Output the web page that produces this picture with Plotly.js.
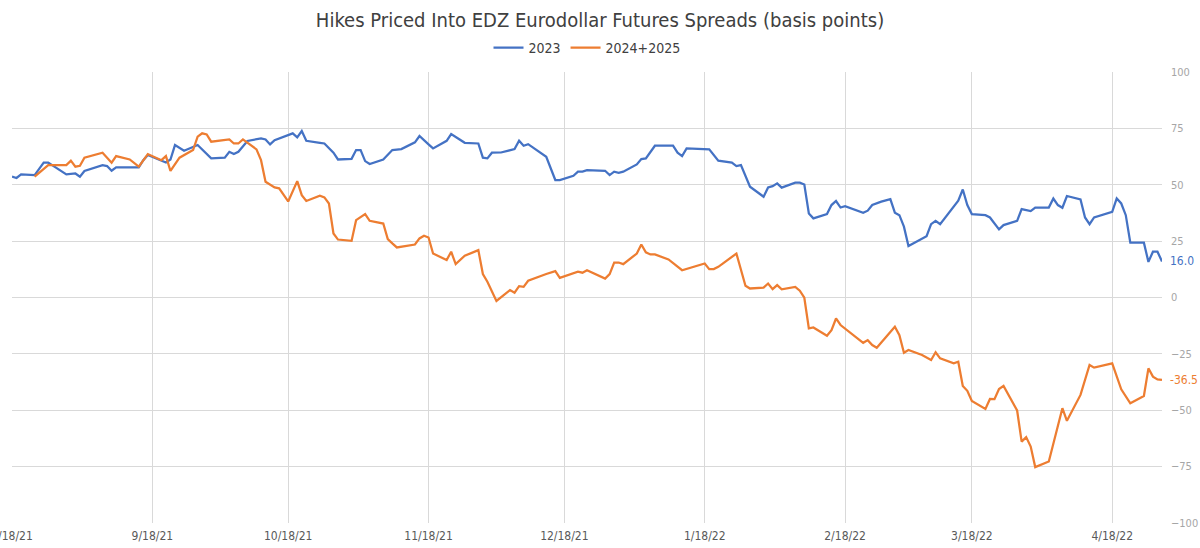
<!DOCTYPE html>
<html>
<head>
<meta charset="utf-8">
<script src="https://cdn.plot.ly/plotly-3.0.1.min.js"></script>
<style>html,body{margin:0;padding:0;background:#fff;}#chart{width:1200px;height:548px;}</style>
</head>
<body>
<div id="chart"></div>
<script>
const chartTitle = "Hikes Priced Into EDZ Eurodollar Futures Spreads (basis points)";
const seriesNames = ["2023", "2024+2025"];

const dates2023 = [
"2021-08-18","2021-08-19","2021-08-20","2021-08-23","2021-08-25","2021-08-26","2021-08-30","2021-09-01","2021-09-02","2021-09-03",
"2021-09-07","2021-09-08","2021-09-09","2021-09-10","2021-09-15","2021-09-16","2021-09-17","2021-09-21","2021-09-22","2021-09-23",
"2021-09-25","2021-09-28","2021-10-01","2021-10-04","2021-10-05","2021-10-06","2021-10-07","2021-10-09","2021-10-12","2021-10-13",
"2021-10-14","2021-10-15","2021-10-19","2021-10-20","2021-10-21","2021-10-22","2021-10-25","2021-10-26","2021-10-28","2021-10-29",
"2021-11-01","2021-11-02","2021-11-03","2021-11-04","2021-11-05","2021-11-08","2021-11-10","2021-11-12","2021-11-15","2021-11-16",
"2021-11-18","2021-11-19","2021-11-22","2021-11-23","2021-11-26","2021-11-29","2021-11-30","2021-12-01","2021-12-02","2021-12-04",
"2021-12-07","2021-12-08","2021-12-09","2021-12-10","2021-12-14","2021-12-16","2021-12-17","2021-12-20","2021-12-21","2021-12-22",
"2021-12-23","2021-12-27","2021-12-28","2021-12-29","2021-12-30","2021-12-31","2022-01-03","2022-01-04","2022-01-05","2022-01-07",
"2022-01-11","2022-01-12","2022-01-13","2022-01-14","2022-01-19","2022-01-21","2022-01-24","2022-01-25","2022-01-26","2022-01-28",
"2022-01-31","2022-02-01","2022-02-02","2022-02-03","2022-02-04","2022-02-07","2022-02-08","2022-02-09","2022-02-10","2022-02-11",
"2022-02-14","2022-02-15","2022-02-16","2022-02-17","2022-02-18","2022-02-22","2022-02-23","2022-02-24","2022-02-26","2022-02-28",
"2022-03-01","2022-03-02","2022-03-03","2022-03-04","2022-03-08","2022-03-09","2022-03-10","2022-03-11","2022-03-15","2022-03-16",
"2022-03-17","2022-03-18","2022-03-21","2022-03-22","2022-03-24","2022-03-25","2022-03-28","2022-03-29","2022-03-31","2022-04-01",
"2022-04-04","2022-04-05","2022-04-06","2022-04-07","2022-04-08","2022-04-11","2022-04-12","2022-04-13","2022-04-14","2022-04-18",
"2022-04-19","2022-04-20","2022-04-21","2022-04-22","2022-04-25","2022-04-26","2022-04-27","2022-04-28","2022-04-29"
];
const values2023 = [
53.6,53.0,54.6,54.3,59.8,59.8,54.6,55.0,53.6,56.1,
58.7,58.3,56.2,57.7,57.7,60.9,63.2,59.9,61.2,67.6,
65.1,67.6,61.7,62.0,64.6,63.6,64.6,69.4,70.6,70.1,
67.9,69.8,72.8,71.0,73.8,69.5,68.6,68.3,64.2,61.2,
61.5,65.4,65.4,60.5,59.2,61.2,65.4,65.8,68.8,71.6,
67.9,66.1,69.5,72.5,68.6,68.3,62.0,61.7,64.2,64.3,
65.8,69.5,67.3,68.0,62.4,52.1,52.1,54.0,55.8,55.8,
56.5,56.2,54.3,55.8,55.3,55.8,59.0,61.4,61.7,67.3,
67.3,64.2,62.7,66.1,65.7,60.7,59.8,58.3,58.7,49.1,
44.7,48.8,49.4,50.6,48.7,50.9,50.9,50.1,37.3,35.1,
37.0,41.0,42.8,39.9,40.5,37.6,38.5,41.0,42.5,43.6,
37.6,36.5,31.4,22.8,27.2,32.5,34.0,32.5,42.9,47.9,
41.0,37.0,36.5,35.5,30.2,32.1,34.0,39.2,38.3,39.9,
39.9,43.9,41.0,39.8,45.0,43.5,35.5,32.5,35.5,38.0,
43.9,41.7,36.5,24.3,24.3,15.8,20.3,20.3,16.0
];

const dates2425 = [
"2021-08-23","2021-08-26","2021-08-30","2021-08-31","2021-09-01","2021-09-02","2021-09-03","2021-09-07","2021-09-09","2021-09-10",
"2021-09-13","2021-09-15","2021-09-17","2021-09-20","2021-09-21","2021-09-22","2021-09-24","2021-09-27","2021-09-28","2021-09-29",
"2021-09-30","2021-10-01","2021-10-05","2021-10-06","2021-10-07","2021-10-08","2021-10-11","2021-10-12","2021-10-13","2021-10-15",
"2021-10-16","2021-10-18","2021-10-20","2021-10-21","2021-10-22","2021-10-25","2021-10-26","2021-10-27","2021-10-28","2021-10-29",
"2021-11-01","2021-11-02","2021-11-04","2021-11-05","2021-11-08","2021-11-09","2021-11-10","2021-11-11","2021-11-15","2021-11-16",
"2021-11-17","2021-11-18","2021-11-19","2021-11-22","2021-11-23","2021-11-24","2021-11-26","2021-11-29","2021-11-30","2021-12-01",
"2021-12-03","2021-12-06","2021-12-07","2021-12-08","2021-12-09","2021-12-10","2021-12-14","2021-12-16","2021-12-17","2021-12-21",
"2021-12-22","2021-12-23","2021-12-27","2021-12-28","2021-12-29","2021-12-30","2021-12-31","2022-01-03","2022-01-04","2022-01-05",
"2022-01-06","2022-01-07","2022-01-10","2022-01-13","2022-01-18","2022-01-19","2022-01-20","2022-01-21","2022-01-25","2022-01-27",
"2022-01-28","2022-01-31","2022-02-01","2022-02-02","2022-02-03","2022-02-04","2022-02-07","2022-02-08","2022-02-09","2022-02-10",
"2022-02-11","2022-02-14","2022-02-15","2022-02-16","2022-02-17","2022-02-22","2022-02-23","2022-02-24","2022-02-25","2022-03-01",
"2022-03-02","2022-03-03","2022-03-04","2022-03-07","2022-03-09","2022-03-10","2022-03-11","2022-03-14","2022-03-15","2022-03-16",
"2022-03-17","2022-03-18","2022-03-21","2022-03-22","2022-03-23","2022-03-24","2022-03-25","2022-03-28","2022-03-29","2022-03-30",
"2022-03-31","2022-04-01","2022-04-04","2022-04-07","2022-04-08","2022-04-11","2022-04-13","2022-04-14","2022-04-18","2022-04-20",
"2022-04-22","2022-04-25","2022-04-26","2022-04-27","2022-04-28","2022-04-29"
];
const values2425 = [
53.6,58.7,58.7,60.7,58.0,58.4,62.0,64.2,59.8,62.7,
61.2,58.0,63.6,60.9,62.7,56.1,62.0,65.4,71.3,72.8,
72.3,69.1,70.1,68.3,68.3,70.1,65.7,60.9,51.3,48.8,
48.4,42.6,51.6,45.4,42.8,45.1,44.4,41.7,28.4,25.7,
25.1,34.3,37.0,34.0,32.8,25.9,24.0,22.2,23.5,26.2,
27.4,26.6,19.5,16.6,20.3,14.8,18.5,21.0,10.4,7.0,
-1.5,3.3,2.1,5.0,4.7,7.4,10.4,11.7,8.7,11.5,
11.0,12.1,8.4,10.4,15.5,15.5,14.8,19.5,23.5,20.0,
19.1,19.1,16.9,12.1,15.1,12.6,12.6,13.6,19.5,5.2,
4.0,4.4,6.2,3.7,5.5,3.6,4.7,3.0,-0.1,-13.7,
-13.3,-17.0,-14.5,-9.3,-12.2,-20.1,-18.9,-21.1,-22.3,-13.0,
-16.7,-24.5,-23.3,-25.5,-27.7,-24.3,-27.0,-29.2,-28.5,-39.2,
-41.4,-45.9,-49.4,-45.0,-45.1,-40.6,-39.2,-50.1,-63.9,-61.9,
-66.1,-75.2,-72.7,-49.1,-54.7,-43.2,-29.9,-31.1,-29.2,-40.7,
-46.9,-43.7,-31.4,-35.1,-36.3,-36.5
];

const tickDates = ["2021-08-18","2021-09-18","2021-10-18","2021-11-18","2021-12-18","2022-01-18","2022-02-18","2022-03-18","2022-04-18"];
const tickLabels = ["8/18/21","9/18/21","10/18/21","11/18/21","12/18/21","1/18/22","2/18/22","3/18/22","4/18/22"];
const yTicks = [-100,-75,-50,-25,0,25,50,75,100];

const BLUE = "#4472C4", ORANGE = "#ED7D31";
const FONT = "'Liberation Sans Narrow', 'DejaVu Sans Condensed', 'Roboto Condensed', Roboto, sans-serif";

const traces = [
  {x: dates2023, y: values2023, name: seriesNames[0], type: "scatter", mode: "lines",
   line: {color: BLUE, width: 2.25}, cliponaxis: false},
  {x: dates2425, y: values2425, name: seriesNames[1], type: "scatter", mode: "lines",
   line: {color: ORANGE, width: 2.25}, cliponaxis: false}
];

const last1 = values2023.length - 1, last2 = values2425.length - 1;
const layout = {
  width: 1200, height: 548,
  paper_bgcolor: "#fff", plot_bgcolor: "#fff",
  font: {family: FONT, color: "#595959", size: 12},
  margin: {l: 12, r: 38, t: 72, b: 25},
  title: {text: chartTitle, font: {family: FONT, size: 20, color: "#404040"},
          x: 0.5, xanchor: "center", y: 1 - 20/548, yanchor: "middle"},
  showlegend: true,
  legend: {orientation: "h", x: 0.5, xanchor: "center", y: 1 - 48/548, yanchor: "middle", yref: "container",
           font: {family: FONT, size: 14, color: "#404040"}, itemwidth: 30, traceorder: "normal"},
  xaxis: {type: "date", range: ["2021-08-18", "2022-04-29"], tickmode: "array",
          tickvals: tickDates, ticktext: tickLabels, showgrid: true, gridcolor: "#d9d9d9", gridwidth: 1,
          ticklabeloverflow: "allow", ticklabelstandoff: 4,
          zeroline: false, showline: false, ticks: "", tickfont: {family: FONT, size: 12, color: "#595959"}},
  yaxis: {side: "right", range: [-100, 100], tickmode: "array", tickvals: yTicks,
          showgrid: true, gridcolor: "#d9d9d9", gridwidth: 1, zeroline: true, zerolinecolor: "#d9d9d9", zerolinewidth: 1,
          showline: false, ticks: "", ticklabelstandoff: 8, tickfont: {family: FONT, size: 11, color: "#a6a6a6"}},
  annotations: [
    {x: dates2023[last1], y: values2023[last1], xref: "x", yref: "y", text: values2023[last1].toFixed(1),
     showarrow: false, xanchor: "left", xshift: 6, font: {family: FONT, size: 12, color: BLUE}},
    {x: dates2425[last2], y: values2425[last2], xref: "x", yref: "y", text: values2425[last2].toFixed(1),
     showarrow: false, xanchor: "left", xshift: 6, font: {family: FONT, size: 12, color: ORANGE}}
  ]
};

Plotly.newPlot("chart", traces, layout, {displayModeBar: false, staticPlot: true});
</script>
</body>
</html>
